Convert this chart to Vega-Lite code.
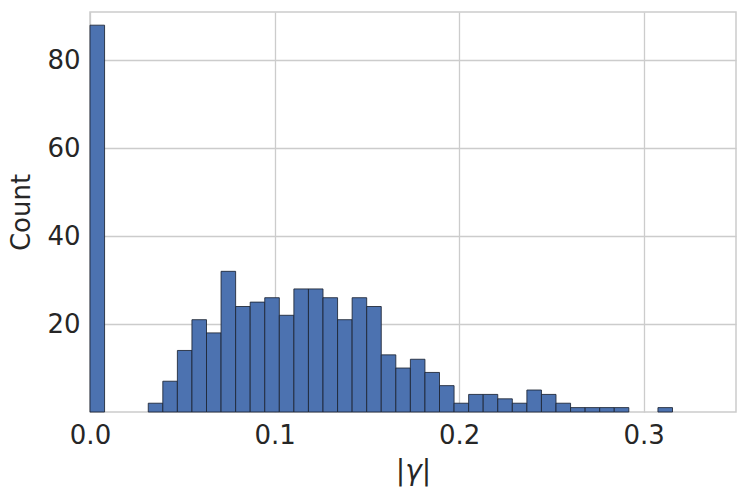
{
  "$schema": "https://vega.github.io/schema/vega-lite/v6.json",
  "autosize": "none",
  "padding": {"left": 90, "top": 12, "right": 12, "bottom": 91},
  "width": 646,
  "height": 400,
  "background": "white",
  "config": {
    "view": {"stroke": "#cccccc", "strokeWidth": 1.5},
    "font": "DejaVu Sans"
  },
  "data": {
    "values": [
      {"bin_start": 0.0, "bin_end": 0.00789, "count": 88},
      {"bin_start": 0.03156, "bin_end": 0.03945, "count": 2},
      {"bin_start": 0.03945, "bin_end": 0.04734, "count": 7},
      {"bin_start": 0.04734, "bin_end": 0.05523, "count": 14},
      {"bin_start": 0.05523, "bin_end": 0.06312, "count": 21},
      {"bin_start": 0.06312, "bin_end": 0.07101, "count": 18},
      {"bin_start": 0.07101, "bin_end": 0.0789, "count": 32},
      {"bin_start": 0.0789, "bin_end": 0.08679, "count": 24},
      {"bin_start": 0.08679, "bin_end": 0.09468, "count": 25},
      {"bin_start": 0.09468, "bin_end": 0.10257, "count": 26},
      {"bin_start": 0.10257, "bin_end": 0.11046, "count": 22},
      {"bin_start": 0.11046, "bin_end": 0.11835, "count": 28},
      {"bin_start": 0.11835, "bin_end": 0.12624, "count": 28},
      {"bin_start": 0.12624, "bin_end": 0.13413, "count": 26},
      {"bin_start": 0.13413, "bin_end": 0.14202, "count": 21},
      {"bin_start": 0.14202, "bin_end": 0.14991, "count": 26},
      {"bin_start": 0.14991, "bin_end": 0.1578, "count": 24},
      {"bin_start": 0.1578, "bin_end": 0.16569, "count": 13},
      {"bin_start": 0.16569, "bin_end": 0.17358, "count": 10},
      {"bin_start": 0.17358, "bin_end": 0.18147, "count": 12},
      {"bin_start": 0.18147, "bin_end": 0.18936, "count": 9},
      {"bin_start": 0.18936, "bin_end": 0.19725, "count": 6},
      {"bin_start": 0.19725, "bin_end": 0.20514, "count": 2},
      {"bin_start": 0.20514, "bin_end": 0.21303, "count": 4},
      {"bin_start": 0.21303, "bin_end": 0.22092, "count": 4},
      {"bin_start": 0.22092, "bin_end": 0.22881, "count": 3},
      {"bin_start": 0.22881, "bin_end": 0.2367, "count": 2},
      {"bin_start": 0.2367, "bin_end": 0.24459, "count": 5},
      {"bin_start": 0.24459, "bin_end": 0.25248, "count": 4},
      {"bin_start": 0.25248, "bin_end": 0.26037, "count": 2},
      {"bin_start": 0.26037, "bin_end": 0.26826, "count": 1},
      {"bin_start": 0.26826, "bin_end": 0.27615, "count": 1},
      {"bin_start": 0.27615, "bin_end": 0.28404, "count": 1},
      {"bin_start": 0.28404, "bin_end": 0.29193, "count": 1},
      {"bin_start": 0.30771, "bin_end": 0.3156, "count": 1}
    ]
  },
  "mark": {"type": "rect", "fill": "#4c72b0", "stroke": "#1c2434", "strokeWidth": 1, "strokeOpacity": 0.85},
  "encoding": {
    "x": {
      "field": "bin_start", "type": "quantitative",
      "scale": {"domain": [0, 0.35], "nice": false, "zero": false},
      "axis": {
        "title": "|γ|", "titleFont": "DejaVu Sans", "titleFontStyle": "italic", "titleFontWeight": "normal",
        "titleFontSize": 28, "titleColor": "#262626", "titlePadding": 9,
        "values": [0, 0.1, 0.2, 0.3], "format": ".1f",
        "labelFontSize": 26, "labelColor": "#262626", "labelPadding": 10, "labelFlush": false,
        "ticks": false, "domain": false,
        "grid": true, "gridColor": "#cccccc", "gridWidth": 1.3
      }
    },
    "x2": {"field": "bin_end"},
    "y": {
      "field": "count", "type": "quantitative",
      "scale": {"domain": [0, 91], "nice": false},
      "axis": {
        "title": "Count", "titleFontSize": 26, "titleFontWeight": "normal", "titleColor": "#262626", "titlePadding": 12,
        "values": [20, 40, 60, 80],
        "labelFontSize": 26, "labelColor": "#262626", "labelPadding": 10, "labelFlush": false,
        "ticks": false, "domain": false,
        "grid": true, "gridColor": "#cccccc", "gridWidth": 1.3
      }
    },
    "y2": {"datum": 0}
  }
}
